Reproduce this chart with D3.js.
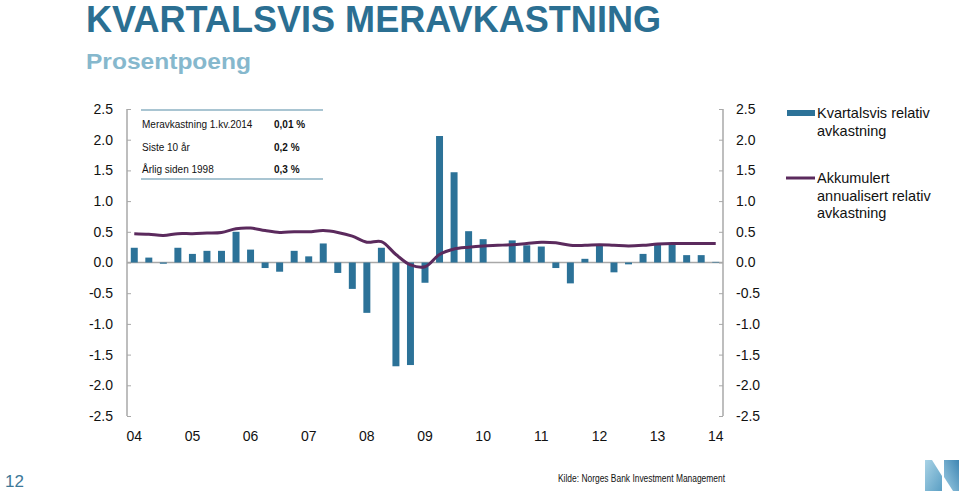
<!DOCTYPE html>
<html>
<head>
<meta charset="utf-8">
<script src="https://cdn.jsdelivr.net/npm/d3@7"></script>
<style>
  body { margin: 0; background: #fff; }
  svg { display: block; font-family: "Liberation Sans", Arial, sans-serif; }
</style>
</head>
<body>
<svg id="chart" width="960" height="491"></svg>
<script>
// ---- Data ----
const quarters = [];
for (let yr = 2004; yr <= 2014; yr++) {
  for (let q = 1; q <= 4; q++) {
    if (yr === 2014 && q > 1) break;
    quarters.push(yr + "Q" + q);
  }
}
const quarterlyRelative = [
  0.24, 0.08, -0.02, 0.24, 0.14, 0.19, 0.19, 0.50,
  0.21, -0.09, -0.15, 0.19, 0.10, 0.31, -0.17, -0.43,
  -0.82, 0.24, -1.69, -1.67, -0.33, 2.06, 1.47, 0.51,
  0.38, 0.00, 0.36, 0.28, 0.26, -0.09, -0.34, 0.06,
  0.30, -0.16, -0.03, 0.14, 0.31, 0.31, 0.12, 0.12, 0.01
];
const cumulativeAnnualized = [
  0.47, 0.46, 0.44, 0.47, 0.47, 0.48, 0.49, 0.55,
  0.56, 0.52, 0.49, 0.50, 0.50, 0.52, 0.49, 0.43,
  0.33, 0.34, 0.13, -0.04, -0.07, 0.13, 0.22, 0.25,
  0.27, 0.28, 0.29, 0.31, 0.33, 0.32, 0.28, 0.28,
  0.29, 0.28, 0.27, 0.28, 0.30, 0.31, 0.31, 0.31, 0.31
];
const yTicks = [2.5, 2.0, 1.5, 1.0, 0.5, 0.0, -0.5, -1.0, -1.5, -2.0, -2.5];
const xTickLabels = ["04","05","06","07","08","09","10","11","12","13","14"];
const tableLabels = ["Meravkastning 1.kv.2014", "Siste 10 år", "Årlig siden 1998"];
const tableValues = ["0,01 %", "0,2 %", "0,3 %"];
const legendLabels = [["Kvartalsvis relativ", "avkastning"], ["Akkumulert", "annualisert relativ", "avkastning"]];

// ---- Layout ----
const svg = d3.select("#chart");
const pLeft = 127, pRight = 723, pTop = 109, pBottom = 416;
const barColor = "#2c7298";
const lineColor = "#5b2a5d";
const axisColor = "#a8a8a8";
const fmt = d => d.toFixed(1);

const x = d3.scaleBand().domain(quarters).range([pLeft, pRight]).paddingInner(0.52).paddingOuter(0.26);
const y = d3.scaleLinear().domain([-2.5, 2.5]).range([pBottom, pTop]);

// Title
svg.append("text").attr("x", 86).attr("y", 32)
  .attr("font-size", 37).attr("font-weight", "bold").attr("fill", "#2b6f92")
  .attr("textLength", 575).attr("lengthAdjust", "spacingAndGlyphs")
  .text("KVARTALSVIS MERAVKASTNING");
svg.append("text").attr("x", 86).attr("y", 68.5)
  .attr("font-size", 22).attr("font-weight", "bold").attr("fill", "#86b8cd")
  .attr("textLength", 165).attr("lengthAdjust", "spacingAndGlyphs")
  .text("Prosentpoeng");

// Axes
const yLeft = d3.axisLeft(y).tickValues(yTicks).tickSize(-4).tickPadding(14).tickFormat(fmt);
const gl = svg.append("g").attr("transform", `translate(${pLeft},0)`).call(yLeft);
const yRight = d3.axisRight(y).tickValues(yTicks).tickSize(-4).tickPadding(13).tickFormat(fmt);
const gr = svg.append("g").attr("transform", `translate(${pRight},0)`).call(yRight);
[gl, gr].forEach(g => {
  g.select(".domain").attr("stroke", axisColor).attr("stroke-width", 1.5)
    .attr("d", `M0,${pTop}V${pBottom}`);
  g.selectAll(".tick line").attr("stroke", axisColor);
  g.selectAll(".tick text").attr("font-size", 14).attr("fill", "#111")
    .attr("font-family", "'Liberation Sans', Arial, sans-serif");
});
gl.selectAll(".tick text").attr("text-anchor", "end").attr("x", -14);
gr.selectAll(".tick text").attr("x", 13);

// Zero line
svg.append("line").attr("x1", pLeft).attr("x2", pRight)
  .attr("y1", y(0)).attr("y2", y(0))
  .attr("stroke", axisColor).attr("stroke-width", 1.5);

// X labels
const xAxis = d3.axisBottom(x)
  .tickValues(quarters.filter(q => q.endsWith("Q1")))
  .tickSize(0).tickPadding(0)
  .tickFormat((d, i) => xTickLabels[i]);
const gx = svg.append("g").attr("transform", `translate(0,${pBottom + 15})`).call(xAxis);
gx.select(".domain").remove();
gx.selectAll(".tick text").attr("font-size", 14).attr("fill", "#111")
  .attr("font-family", "'Liberation Sans', Arial, sans-serif");

// Bars
svg.append("g").selectAll("rect").data(quarterlyRelative).join("rect")
  .attr("x", (d, i) => x(quarters[i]))
  .attr("width", x.bandwidth())
  .attr("y", d => y(Math.max(0, d)))
  .attr("height", d => Math.abs(y(d) - y(0)))
  .attr("fill", barColor);

// Line
const line = d3.line()
  .x((d, i) => x(quarters[i]) + x.bandwidth() / 2)
  .y(d => y(d))
  .curve(d3.curveCatmullRom.alpha(0.5));
svg.append("path").datum(cumulativeAnnualized)
  .attr("d", line).attr("fill", "none")
  .attr("stroke", lineColor).attr("stroke-width", 3);

// Table
const tbl = svg.append("g");
tbl.append("line").attr("x1", 141).attr("x2", 323).attr("y1", 110).attr("y2", 110)
  .attr("stroke", "#8db2c3").attr("stroke-width", 1.5);
tbl.append("line").attr("x1", 141).attr("x2", 323).attr("y1", 179).attr("y2", 179)
  .attr("stroke", "#8db2c3").attr("stroke-width", 1.5);
tableLabels.forEach((t, i) => {
  tbl.append("text").attr("x", 142).attr("y", 128 + i * 22.5)
    .attr("font-size", 10).attr("fill", "#111").text(t);
  tbl.append("text").attr("x", 274).attr("y", 128 + i * 22.5)
    .attr("font-size", 10).attr("font-weight", "bold").attr("fill", "#111").text(tableValues[i]);
});

// Legend
const lg = svg.append("g");
lg.append("rect").attr("x", 787).attr("y", 110).attr("width", 28).attr("height", 6).attr("fill", barColor);
legendLabels[0].forEach((t, i) => {
  lg.append("text").attr("x", 817).attr("y", 118 + i * 18).attr("font-size", 14.5).attr("fill", "#111").text(t);
});
lg.append("line").attr("x1", 786).attr("x2", 815).attr("y1", 178).attr("y2", 178)
  .attr("stroke", lineColor).attr("stroke-width", 3);
legendLabels[1].forEach((t, i) => {
  lg.append("text").attr("x", 817).attr("y", 183 + i * 17.5).attr("font-size", 14.5).attr("fill", "#111").text(t);
});

// Footer
svg.append("text").attr("x", 5).attr("y", 487).attr("font-size", 17).attr("fill", "#3d7898").text("12");
svg.append("text").attr("x", 558).attr("y", 482).attr("font-size", 10).attr("fill", "#111")
  .attr("textLength", 167).attr("lengthAdjust", "spacingAndGlyphs")
  .text("Kilde: Norges Bank Investment Management");

// Logo
const defs = svg.append("defs");
const grad = defs.append("linearGradient").attr("id", "lg1").attr("x1", 0).attr("y1", 0).attr("x2", 1).attr("y2", 1);
grad.append("stop").attr("offset", 0).attr("stop-color", "#a9d3e6");
grad.append("stop").attr("offset", 1).attr("stop-color", "#5b9fc4");
const grad2 = defs.append("linearGradient").attr("id", "lg2").attr("x1", 1).attr("y1", 0).attr("x2", 0).attr("y2", 1);
grad2.append("stop").attr("offset", 0).attr("stop-color", "#3f86b3");
grad2.append("stop").attr("offset", 1).attr("stop-color", "#9ccbe2");
svg.append("path").attr("d", "M925,460 L932,460 L942,476 L942,491 L925,491 Z").attr("fill", "url(#lg1)");
svg.append("path").attr("d", "M944,460 L959,460 L959,491 L953,491 L944,477 Z").attr("fill", "url(#lg2)");
</script>
</body>
</html>
